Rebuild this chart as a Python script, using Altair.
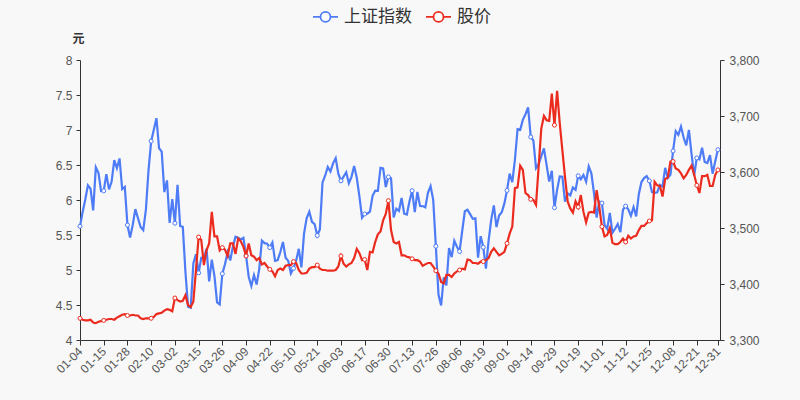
import altair as alt
import pandas as pd

# Trading-day index positions of the x tick labels, and the labels themselves
tick_positions = [0, 9, 18, 27, 36, 45, 54, 63, 72, 81, 90, 99, 108, 117, 126,
                  135, 144, 153, 162, 171, 180, 189, 198, 207, 216, 225, 234, 242]
tick_labels = ["01-04", "01-15", "01-28", "02-10", "03-02", "03-15", "03-26",
               "04-09", "04-22", "05-10", "05-21", "06-03", "06-17", "06-30",
               "07-13", "07-26", "08-06", "08-19", "09-01", "09-14", "09-29",
               "10-19", "11-01", "11-12", "11-25", "12-08", "12-21", "12-31"]

# 上证指数 (right axis)
sse = [
    3502.96, 3528.68, 3550.88, 3576.20, 3570.11, 3531.50, 3608.34, 3598.65, 3565.90, 3566.38,
    3596.22, 3569.00, 3583.00, 3621.26, 3606.75, 3624.24, 3569.43, 3573.34, 3505.18, 3483.07,
    3505.28, 3533.68, 3517.31, 3501.86, 3496.33, 3532.71, 3603.49, 3655.09, 3675.36, 3696.17,
    3642.44, 3636.36, 3564.08, 3585.05, 3509.08, 3551.40, 3508.59, 3576.90, 3503.49, 3501.99,
    3421.41, 3359.29, 3357.74, 3436.83, 3453.08, 3419.95, 3446.73, 3445.55, 3463.07, 3404.66,
    3443.44, 3414.41, 3367.06, 3363.59, 3418.33, 3435.30, 3456.68, 3441.91, 3466.33, 3484.39,
    3482.81, 3479.63, 3482.55, 3450.68, 3412.95, 3396.47, 3416.00, 3398.99, 3426.62, 3477.55,
    3472.94, 3472.00, 3465.00, 3474.17, 3441.17, 3442.61, 3457.07, 3474.90, 3446.86, 3441.28,
    3418.87, 3427.99, 3441.85, 3462.75, 3429.54, 3490.38, 3517.62, 3529.01, 3510.96, 3506.94,
    3486.56, 3497.28, 3581.34, 3593.36, 3608.85, 3600.78, 3615.48, 3624.71, 3597.14, 3584.22,
    3591.84, 3599.54, 3580.11, 3591.40, 3610.86, 3589.75, 3556.56, 3518.33, 3525.10, 3525.60,
    3529.18, 3557.41, 3566.65, 3566.22, 3607.56, 3606.37, 3573.18, 3591.20, 3588.78, 3518.76,
    3534.32, 3530.26, 3553.72, 3525.50, 3524.09, 3547.84, 3566.67, 3528.50, 3564.59, 3539.30,
    3539.12, 3536.79, 3562.79, 3574.73, 3550.40, 3467.44, 3381.18, 3361.59, 3411.72, 3397.36,
    3464.29, 3447.99, 3477.22, 3466.56, 3458.23, 3494.63, 3529.93, 3532.62, 3524.74, 3516.30,
    3517.34, 3446.98, 3485.29, 3465.55, 3427.33, 3477.13, 3514.47, 3540.38, 3501.66, 3522.16,
    3528.15, 3543.94, 3567.10, 3597.04, 3581.73, 3621.86, 3676.59, 3675.19, 3693.13, 3703.11,
    3715.37, 3662.60, 3656.22, 3607.09, 3613.97, 3628.49, 3642.22, 3613.07, 3582.83, 3602.22,
    3536.29, 3568.17, 3592.17, 3591.71, 3546.94, 3561.76, 3558.28, 3572.37, 3568.14, 3593.15,
    3587.00, 3594.78, 3582.60, 3609.86, 3597.64, 3562.31, 3518.42, 3547.34, 3544.48, 3505.63,
    3498.54, 3526.87, 3491.57, 3498.63, 3507.00, 3492.46, 3532.79, 3539.10, 3533.30, 3521.79,
    3537.37, 3520.71, 3560.37, 3582.08, 3589.09, 3592.70, 3584.18, 3564.09, 3562.70, 3563.89,
    3576.89, 3573.84, 3607.43, 3589.31, 3595.09, 3637.57, 3673.04, 3666.35, 3681.08, 3661.53,
    3647.63, 3675.02, 3632.36, 3593.60, 3625.13, 3622.62, 3643.34, 3618.05, 3615.97, 3630.11,
    3597.00, 3619.19, 3639.78,
]

# 股价 (left axis, 元)
price = [
    4.31, 4.29, 4.28, 4.28, 4.29, 4.25, 4.24, 4.26, 4.27, 4.28,
    4.29, 4.30, 4.30, 4.29, 4.32, 4.34, 4.36, 4.37, 4.35, 4.35,
    4.36, 4.35, 4.35, 4.31, 4.30, 4.31, 4.31, 4.31, 4.33, 4.37,
    4.38, 4.39, 4.42, 4.44, 4.43, 4.41, 4.60, 4.57, 4.55, 4.56,
    4.64, 4.50, 4.47, 4.55, 5.00, 5.47, 5.43, 5.07, 5.28, 5.38,
    5.83, 5.48, 5.48, 5.28, 5.32, 5.29, 5.20, 5.38, 5.38, 5.23,
    5.45, 5.41, 5.33, 5.20, 5.38, 5.21, 5.19, 5.14, 5.17, 5.08,
    5.10, 5.05, 5.01, 4.98, 4.91, 5.00, 5.02, 5.00, 5.06, 5.07,
    5.07, 5.12, 5.10, 5.00, 4.95, 4.95, 4.96, 5.02, 5.04, 5.04,
    5.07, 5.02, 5.00, 5.00, 4.99, 4.99, 4.99, 5.00, 5.05, 5.20,
    5.09, 5.05, 5.08, 5.10, 5.17, 5.30, 5.24, 5.14, 5.15, 5.00,
    5.26, 5.25, 5.40, 5.51, 5.55, 5.71, 5.80, 5.99, 5.57, 5.40,
    5.38, 5.40, 5.21, 5.21, 5.19, 5.18, 5.16, 5.14, 5.14, 5.12,
    5.06, 5.08, 5.10, 5.10, 5.05, 4.99, 4.95, 4.83, 4.81, 4.93,
    4.93, 4.90, 4.95, 4.98, 5.00, 5.02, 5.01, 5.15, 5.14, 5.10,
    5.10, 5.09, 5.12, 5.12, 5.14, 5.17, 5.26, 5.31, 5.26, 5.21,
    5.23, 5.26, 5.38, 5.52, 5.62, 6.17, 6.18, 6.49, 6.43, 6.10,
    6.07, 6.01, 6.00, 5.93, 6.48, 7.02, 7.20, 7.14, 7.13, 7.52,
    7.07, 7.56, 7.10, 6.71, 6.33, 5.98, 5.88, 5.82, 5.98, 5.90,
    6.07, 5.83, 5.68, 5.82, 5.83, 5.82, 6.14, 5.90, 5.62, 5.48,
    5.50, 5.60, 5.39, 5.37, 5.37, 5.40, 5.45, 5.40, 5.49, 5.45,
    5.48, 5.49, 5.57, 5.63, 5.63, 5.67, 5.70, 5.71, 6.26, 6.21,
    6.20, 6.05, 6.30, 6.32, 6.55, 6.55, 6.45, 6.43, 6.38, 6.31,
    6.36, 6.43, 6.49, 6.36, 6.21, 6.10, 6.34, 6.34, 6.36, 6.20,
    6.20, 6.36, 6.43,
]

series_names = ["上证指数", "股价"]
BLUE = "#4d7cf6"
RED = "#ec2b1f"
FONT = "'Liberation Sans', 'Noto Sans CJK SC', sans-serif"

df = pd.DataFrame({"day": list(range(len(sse))), "sse": sse, "price": price})

label_array = "[" + ",".join("'%s'" % s for s in tick_labels) + "]"
pos_array = "[" + ",".join(str(p) for p in tick_positions) + "]"

x_enc = alt.X(
    "day:Q",
    scale=alt.Scale(domain=[0, 242.8], nice=False, zero=False),
    axis=alt.Axis(
        values=tick_positions,
        labelExpr=f"{label_array}[indexof({pos_array}, datum.value)]",
        labelAngle=-45, labelAlign="right", labelBaseline="middle",
        labelFontSize=12, labelColor="#555", labelPadding=4,
        tickSize=5, tickColor="#333", domainColor="#333", grid=False,
        labelOverlap=False, labelFlush=False,
    ),
    title=None,
)

right_axis = alt.Axis(
    orient="right", values=[3300, 3400, 3500, 3600, 3700, 3800],
    labelExpr="format(datum.value, ',')",
    grid=False, tickSize=4, tickColor="#333", domainColor="#333",
    labelFontSize=12, labelColor="#555", labelPadding=5, title=None,
)
left_axis = alt.Axis(
    orient="left", values=[4, 4.5, 5, 5.5, 6, 6.5, 7, 7.5, 8],
    labelExpr="format(datum.value, '~g')",
    grid=False, tickSize=4, tickColor="#333", domainColor="#333",
    labelFontSize=12, labelColor="#555", labelPadding=4,
    title="元", titleAngle=0, titleX=-2, titleY=-22, titleAlign="center",
    titleBaseline="middle", titleFontSize=12, titleFontWeight="bold", titleColor="#333",
)

legend_path = ("M-1,0L-0.4,0M0.4,0L1,0M-0.4,0A0.4,0.4,0,1,0,0.4,0"
               "A0.4,0.4,0,1,0,-0.4,0Z")
color_enc = alt.Color(
    "series:N",
    scale=alt.Scale(domain=series_names, range=[BLUE, RED]),
    legend=alt.Legend(
        title=None, orient="none", legendX=232, legendY=-57, direction="horizontal",
        symbolType=legend_path, symbolSize=625, symbolStrokeWidth=1.8,
        symbolFillColor="#ffffff", labelFontSize=17, labelColor="#333",
        labelFont=FONT, columnPadding=10, labelOffset=5,
    ),
)

marker_filter = "datum.day % 9 == 0 || datum.day == 242"

base = alt.Chart(df)

sse_y = alt.Y("sse:Q", scale=alt.Scale(domain=[3300, 3800], nice=False, zero=False), axis=right_axis)
price_y = alt.Y("price:Q", scale=alt.Scale(domain=[4, 8], nice=False, zero=False), axis=left_axis)

sse_line = base.transform_calculate(series="'上证指数'").mark_line(
    strokeWidth=2.2
).encode(x=x_enc, y=sse_y, color=color_enc)
sse_pts = base.transform_filter(marker_filter).mark_point(
    shape="circle", filled=True, fill="#ffffff", stroke=BLUE, strokeWidth=1, size=16, opacity=1
).encode(x=x_enc, y=sse_y)

price_line = base.transform_calculate(series="'股价'").mark_line(
    strokeWidth=2.2
).encode(x=x_enc, y=price_y, color=color_enc)
price_pts = base.transform_filter(marker_filter).mark_point(
    shape="circle", filled=True, fill="#ffffff", stroke=RED, strokeWidth=1, size=16, opacity=1
).encode(x=x_enc, y=price_y)

chart = alt.layer(
    alt.layer(sse_line, sse_pts),
    alt.layer(price_line, price_pts),
).resolve_scale(y="independent").properties(
    width=640, height=280,
    autosize=alt.AutoSizeParams(type="none"),
    padding={"left": 80, "top": 60, "right": 80, "bottom": 60},
    background="#f8f8f8",
).configure(font=FONT).configure_view(stroke=None)

chart.save("out.html", embed_options={"renderer": "svg", "actions": False})
